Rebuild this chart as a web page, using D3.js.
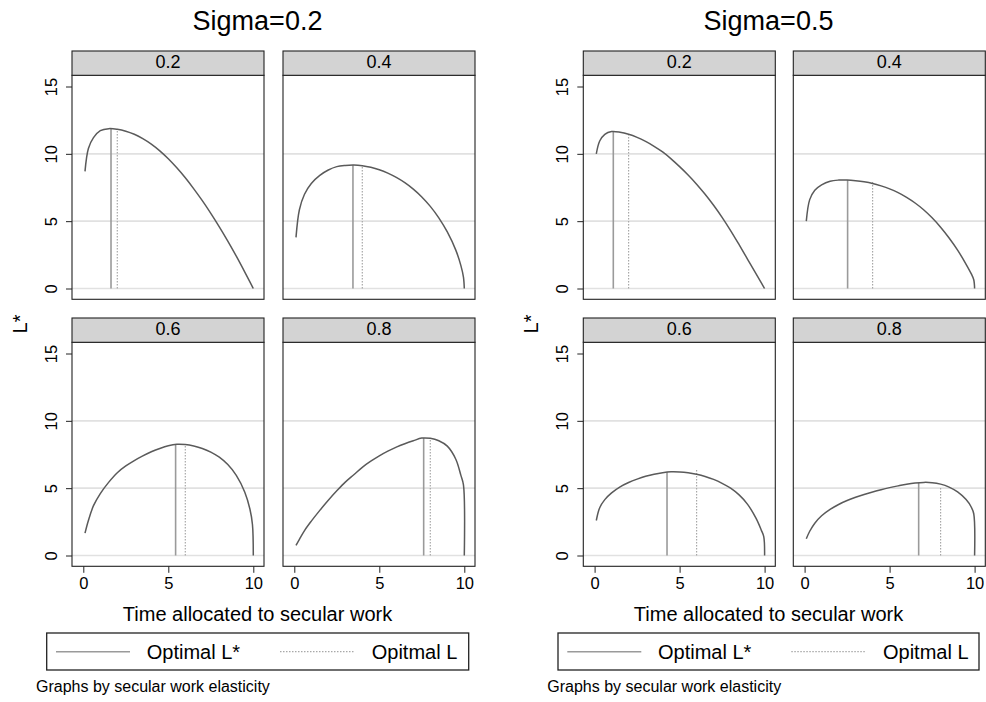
<!DOCTYPE html>
<html>
<head>
<meta charset="utf-8">
<script src="https://cdn.jsdelivr.net/npm/d3@7"></script>
<style>
  body { margin: 0; background: #fff; }
  svg { display: block; font-family: "Liberation Sans", Arial, Helvetica, sans-serif; }
</style>
</head>
<body>
<svg id="chart" width="986" height="702"></svg>
<script>
// time allocated to secular work (shared grid)
const xGrid = [0.1, 0.3, 0.6, 1, 1.5, 2, 2.5, 3, 3.5, 4, 4.5, 5, 5.5, 6, 6.5, 7, 7.5, 8, 8.5, 9, 9.5, 9.8, 9.95, 10];

const elasticities = ["0.2", "0.4", "0.6", "0.8"];
const sigmaTitles = ["Sigma=0.2", "Sigma=0.5"];

// L* curves, Sigma=0.2
const s02_e02 = [8.7, 10.4, 11.2, 11.72, 11.87, 11.82, 11.68, 11.45, 11.13, 10.72, 10.22, 9.63, 8.96, 8.22, 7.4, 6.52, 5.58, 4.58, 3.52, 2.4, 1.22, 0.49, 0.12, 0];
const s02_e04 = [3.8, 5.85, 7.0, 7.8, 8.4, 8.8, 9.05, 9.14, 9.17, 9.12, 9.0, 8.82, 8.57, 8.25, 7.86, 7.38, 6.8, 6.1, 5.25, 4.2, 2.85, 1.7, 0.85, 0];
const s02_e06 = [1.66, 2.6, 3.7, 4.6, 5.45, 6.15, 6.65, 7.05, 7.4, 7.7, 7.95, 8.15, 8.26, 8.24, 8.13, 7.95, 7.68, 7.3, 6.75, 5.95, 4.7, 3.45, 2.3, 0];
const s02_e08 = [0.75, 1.2, 1.85, 2.55, 3.35, 4.1, 4.8, 5.45, 6.0, 6.55, 7.0, 7.4, 7.75, 8.05, 8.3, 8.52, 8.72, 8.7, 8.52, 8.12, 7.15, 5.95, 5.25, 0];

// L* curves, Sigma=0.5
const s05_e02 = [10.0, 10.95, 11.45, 11.65, 11.6, 11.45, 11.22, 10.92, 10.56, 10.14, 9.63, 9.05, 8.43, 7.75, 7.0, 6.18, 5.28, 4.3, 3.25, 2.17, 1.08, 0.43, 0.11, 0];
const s05_e04 = [5.0, 6.6, 7.3, 7.7, 7.97, 8.05, 8.05, 8.0, 7.92, 7.8, 7.62, 7.4, 7.12, 6.77, 6.35, 5.85, 5.25, 4.55, 3.75, 2.85, 1.8, 1.1, 0.65, 0];
const s05_e06 = [2.6, 3.55, 4.15, 4.65, 5.1, 5.42, 5.67, 5.88, 6.04, 6.15, 6.21, 6.2, 6.14, 6.03, 5.87, 5.65, 5.36, 5.0, 4.5, 3.8, 2.75, 1.9, 1.4, 0];
const s05_e08 = [1.24, 1.8, 2.4, 2.95, 3.42, 3.79, 4.08, 4.32, 4.53, 4.72, 4.89, 5.04, 5.17, 5.29, 5.38, 5.43, 5.41, 5.3, 5.08, 4.72, 4.15, 3.6, 3.1, 0];

// optimal L* (solid) and optimal L (dotted) markers
const optLStarX_s02 = [1.63, 3.45, 5.43, 7.61];
const optLStarY_s02 = [11.87, 9.17, 8.26, 8.73];
const optLX_s02 = [2, 4, 6, 8];
const optLY_s02 = [11.7, 9.1, 8.2, 8.65];

const optLStarX_s05 = [1.1, 2.53, 4.26, 6.71];
const optLStarY_s05 = [11.65, 8.05, 6.2, 5.42];
const optLX_s05 = [2, 4, 6, 8];
const optLY_s05 = [11.55, 7.92, 6.35, 5.11];

const yTicks = [0, 5, 10, 15];
const xTicks = [0, 5, 10];
const gridVals = [0, 5, 10];

const charts = [
    { title: sigmaTitles[0], x0: 72, colStep: 211, cx: 257.5,
      curves: [s02_e02, s02_e04, s02_e06, s02_e08],
      lsX: optLStarX_s02, lsY: optLStarY_s02, lX: optLX_s02, lY: optLY_s02 },
    { title: sigmaTitles[1], x0: 583.3, colStep: 210, cx: 768.5,
      curves: [s05_e02, s05_e04, s05_e06, s05_e08],
      lsX: optLStarX_s05, lsY: optLStarY_s05, lX: optLX_s05, lY: optLY_s05 }
];

const svg = d3.select("#chart");
const panelW = 192, stripH = 24.3, plotH = 224;
const rowTop = [51, 318];

const curveColor = "#5a5a5a", lstarColor = "#9a9a9a", lColor = "#a8a8a8", frame = "#222";

charts.forEach(ch => {
    const g = svg.append("g");

    g.append("text")
        .attr("x", ch.cx).attr("y", 29.5)
        .attr("text-anchor", "middle")
        .style("font-size", "27px")
        .text(ch.title);

    elasticities.forEach((lab, i) => {
        const row = Math.floor(i / 2), col = i % 2;
        const px = ch.x0 + col * ch.colStep;
        const sy = rowTop[row];
        const py = sy + stripH;

        const x = d3.scaleLinear().domain([0, 10]).range([px + 11.3, px + 181.3]);
        const y = d3.scaleLinear().domain([0, 15]).range([py + plotH - 10.8, py + plotH - 10.8 - 202]);

        // gridlines
        g.append("g").selectAll("line")
            .data(gridVals)
            .enter().append("line")
            .attr("x1", px).attr("x2", px + panelW)
            .attr("y1", d => y(d)).attr("y2", d => y(d))
            .attr("stroke", "#e1e1e1")
            .attr("stroke-width", 1.6);

        // optimal L (dotted)
        g.append("line")
            .attr("x1", x(ch.lX[i])).attr("x2", x(ch.lX[i]))
            .attr("y1", y(0)).attr("y2", y(ch.lY[i]))
            .attr("stroke", lColor)
            .attr("stroke-width", 1.2)
            .attr("stroke-dasharray", "1.5,1.5");

        // optimal L* (solid)
        g.append("line")
            .attr("x1", x(ch.lsX[i])).attr("x2", x(ch.lsX[i]))
            .attr("y1", y(0)).attr("y2", y(ch.lsY[i]))
            .attr("stroke", lstarColor)
            .attr("stroke-width", 1.6);

        const line = d3.line()
            .x((d, k) => x(xGrid[k]))
            .y(d => y(d))
            .curve(d3.curveCatmullRom.alpha(0.5));

        g.append("path")
            .datum(ch.curves[i])
            .attr("fill", "none")
            .attr("stroke", curveColor)
            .attr("stroke-width", 1.5)
            .attr("d", line);

        // frame + strip
        g.append("rect")
            .attr("x", px).attr("y", py)
            .attr("width", panelW).attr("height", plotH)
            .attr("fill", "none").attr("stroke", frame).attr("stroke-width", 1.1);

        g.append("rect")
            .attr("x", px).attr("y", sy)
            .attr("width", panelW).attr("height", stripH)
            .attr("fill", "#d3d3d3").attr("stroke", frame).attr("stroke-width", 1.1);

        g.append("text")
            .attr("x", px + panelW / 2).attr("y", sy + 17)
            .attr("text-anchor", "middle")
            .style("font-size", "18px")
            .text(lab);

        if (col === 0) {
            const ay = g.append("g")
                .attr("transform", `translate(${px},0)`)
                .call(d3.axisLeft(y).tickValues(yTicks).tickSize(6).tickFormat(d3.format("d")));
            ay.select(".domain").remove();
            ay.selectAll("line").attr("stroke", frame);
            ay.selectAll("text")
                .attr("x", null).attr("dy", null)
                .attr("text-anchor", "middle")
                .attr("fill", "#000")
                .attr("transform", "translate(-15.5,0) rotate(-90)")
                .style("font-size", "16.5px")
                .style("font-family", "inherit");
        }
        if (row === 1) {
            const ax = g.append("g")
                .attr("transform", `translate(0,${py + plotH})`)
                .call(d3.axisBottom(x).tickValues(xTicks).tickSize(6.5).tickFormat(d3.format("d")));
            ax.select(".domain").remove();
            ax.selectAll("line").attr("stroke", frame);
            ax.selectAll("text")
                .attr("y", 23).attr("dy", null)
                .attr("fill", "#000")
                .style("font-size", "16.5px")
                .style("font-family", "inherit");
        }
    });

    // y axis title
    g.append("text")
        .attr("transform", `translate(${ch.x0 - 45},324) rotate(-90)`)
        .attr("text-anchor", "middle")
        .style("font-size", "20px")
        .text("L*");

    // x axis title
    g.append("text")
        .attr("x", ch.cx).attr("y", 621)
        .attr("text-anchor", "middle")
        .style("font-size", "20px")
        .text("Time allocated to secular work");

    // legend
    const lx = ch.x0 - 25.3;
    const lw = ch.colStep === 211 ? 422 : 421;
    const leg = g.append("g").attr("transform", `translate(${lx},633)`);
    leg.append("rect")
        .attr("width", lw).attr("height", 37)
        .attr("fill", "#fff").attr("stroke", frame).attr("stroke-width", 1.3);
    leg.append("line")
        .attr("x1", 9.3).attr("x2", 83.3).attr("y1", 18.7).attr("y2", 18.7)
        .attr("stroke", lstarColor).attr("stroke-width", 1.6);
    leg.append("text")
        .attr("x", 100).attr("y", 26)
        .style("font-size", "20px")
        .text("Optimal L*");
    leg.append("line")
        .attr("x1", 233.3).attr("x2", 308.3).attr("y1", 18.7).attr("y2", 18.7)
        .attr("stroke", lColor).attr("stroke-width", 1.2)
        .attr("stroke-dasharray", "1.5,1.5");
    leg.append("text")
        .attr("x", 325).attr("y", 26)
        .style("font-size", "20px")
        .text("Opitmal L");

    // note
    g.append("text")
        .attr("x", ch.x0 - 36).attr("y", 692)
        .style("font-size", "16px")
        .text("Graphs by secular work elasticity");
});
</script>
</body>
</html>
